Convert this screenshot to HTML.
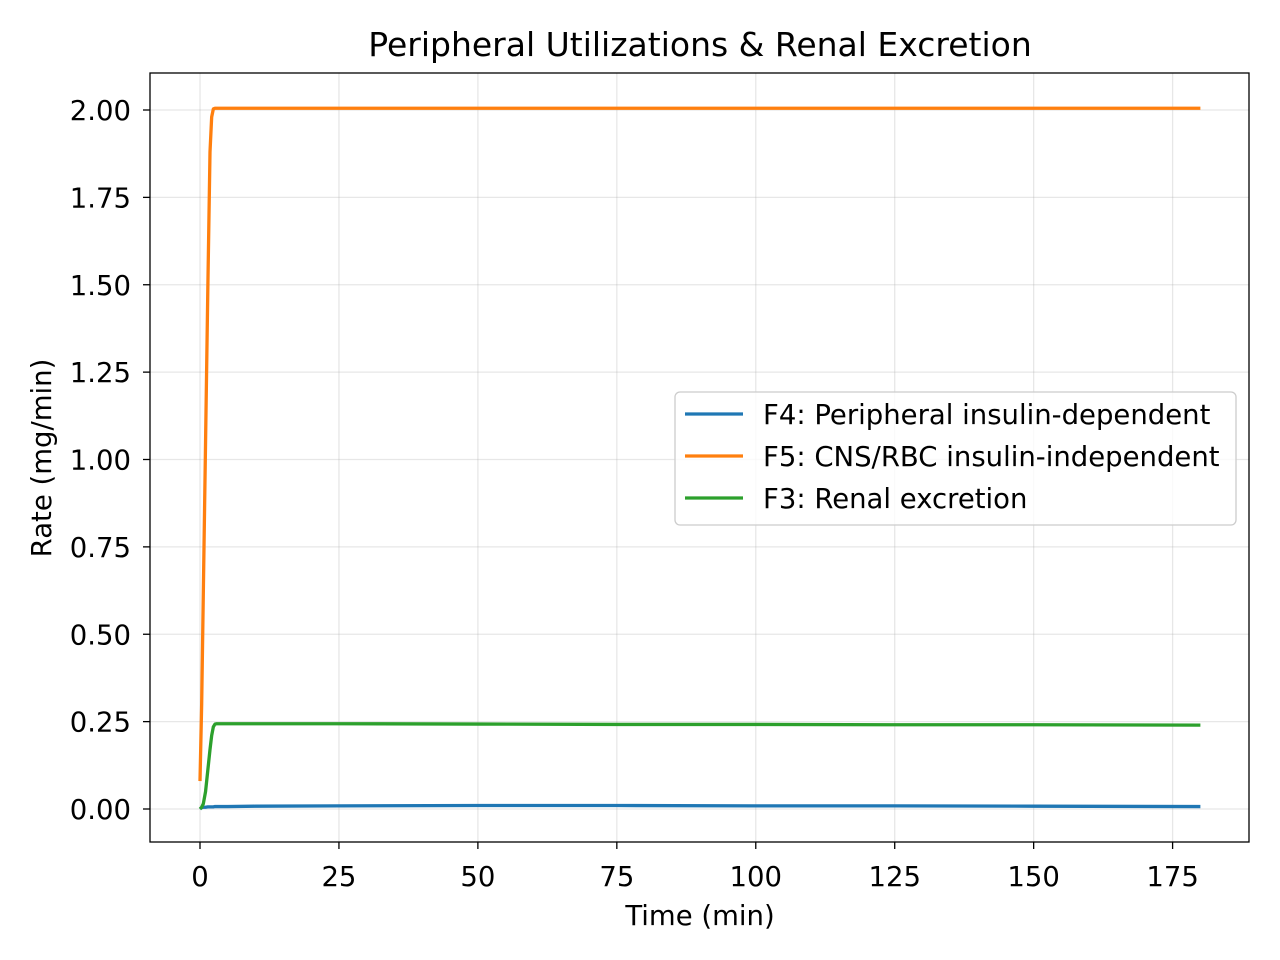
<!DOCTYPE html>
<html><head><meta charset="utf-8">
<style>
html,body{margin:0;padding:0;background:#fff;}
svg{display:block;font-family:"DejaVu Sans","Liberation Sans",sans-serif;}
</style></head>
<body>
<svg id="chart" width="1280" height="960" viewBox="0 0 1280 960">
<rect width="1280" height="960" fill="#fff"/>
<g id="grid"></g>
<g id="series"></g>
<rect x="150" y="73" width="1099" height="769" fill="none" stroke="#000" stroke-width="1.3"/>
<g id="ticks"></g>
<text x="700" y="56" font-size="33" text-anchor="middle">Peripheral Utilizations &amp; Renal Excretion</text>
<text x="700" y="925" font-size="27.5" text-anchor="middle">Time (min)</text>
<text transform="translate(51,458) rotate(-90)" font-size="27.5" text-anchor="middle">Rate (mg/min)</text>
<g>
<rect x="675" y="392" width="561" height="133" rx="5" fill="#fff" fill-opacity="0.8" stroke="#ccc" stroke-width="1.3"/>
<line x1="685" y1="414" x2="743" y2="414" stroke="#1f77b4" stroke-width="3.3"/>
<text x="763" y="424" font-size="27.5">F4: Peripheral insulin-dependent</text>
<line x1="685" y1="456" x2="743" y2="456" stroke="#ff7f0e" stroke-width="3.3"/>
<text x="763" y="466" font-size="27.5">F5: CNS/RBC insulin-independent</text>
<line x1="685" y1="498" x2="743" y2="498" stroke="#2ca02c" stroke-width="3.3"/>
<text x="763" y="508" font-size="27.5">F3: Renal excretion</text>
</g>
</svg>
<script>
const xTicks = [0,25,50,75,100,125,150,175];
const yTicks = [0,0.25,0.5,0.75,1.0,1.25,1.5,1.75,2.0];
const times = [0,0.3,0.6,1,1.4,1.8,2.1,2.4,2.7,3,5,10,25,50,75,100,125,150,180];
const f4 = [0.0,0.004,0.005,0.005,0.006,0.006,0.006,0.006,0.007,0.007,0.007,0.008,0.009,0.010,0.010,0.009,0.009,0.008,0.007];
const f5 = [0.08,0.30,0.62,1.05,1.48,1.88,1.98,2.003,2.005,2.005,2.005,2.005,2.005,2.005,2.005,2.005,2.005,2.005,2.005];
const f3 = [0.0,0.005,0.015,0.05,0.11,0.17,0.21,0.235,0.243,0.244,0.244,0.244,0.244,0.243,0.242,0.242,0.241,0.241,0.240];

const NS='http://www.w3.org/2000/svg';
const X = v => 200 + v*(1172.6-200)/175;
const Y = v => 809 - v*(809-110)/2;
const grid=document.getElementById('grid'), ticks=document.getElementById('ticks'), series=document.getElementById('series');
function mk(tag, attrs, parent){const e=document.createElementNS(NS,tag);for(const k in attrs)e.setAttribute(k,attrs[k]);parent.appendChild(e);return e;}
xTicks.forEach(t=>{
  const g=mk('line',{x1:X(t),x2:X(t),y1:73,y2:842,stroke:'#b0b0b0','stroke-opacity':0.3,'stroke-width':1.3},grid);
  
  
  const tk=mk('line',{x1:X(t),x2:X(t),y1:842,y2:849,stroke:'#000','stroke-width':1.3},ticks);
  
  
  const tx=mk('text',{x:X(t),y:886,'font-size':27.5,'text-anchor':'middle'},ticks);
  tx.textContent=t;
  
  
});
yTicks.forEach(t=>{
  const g=mk('line',{x1:150,x2:1249,y1:Y(t),y2:Y(t),stroke:'#b0b0b0','stroke-opacity':0.3,'stroke-width':1.3},grid);
  
  
  const tk=mk('line',{x1:143,x2:150,y1:Y(t),y2:Y(t),stroke:'#000','stroke-width':1.3},ticks);
  
  
  const tx=mk('text',{x:131,y:Y(t)+10,'font-size':27.5,'text-anchor':'end'},ticks);
  tx.textContent=t.toFixed(2);
  
  
});
function line(vals,color,name){
  const d=times.map((t,i)=>(i?'L':'M')+X(t).toFixed(2)+','+Y(vals[i]).toFixed(2)).join(' ');
  const p=mk('path',{d:d,fill:'none',stroke:color,'stroke-width':3.3,'stroke-linejoin':'round'},series);
  
  
}
line(f4,'#1f77b4','line-f4');
line(f5,'#ff7f0e','line-f5');
line(f3,'#2ca02c','line-f3');
</script>
</body></html>
